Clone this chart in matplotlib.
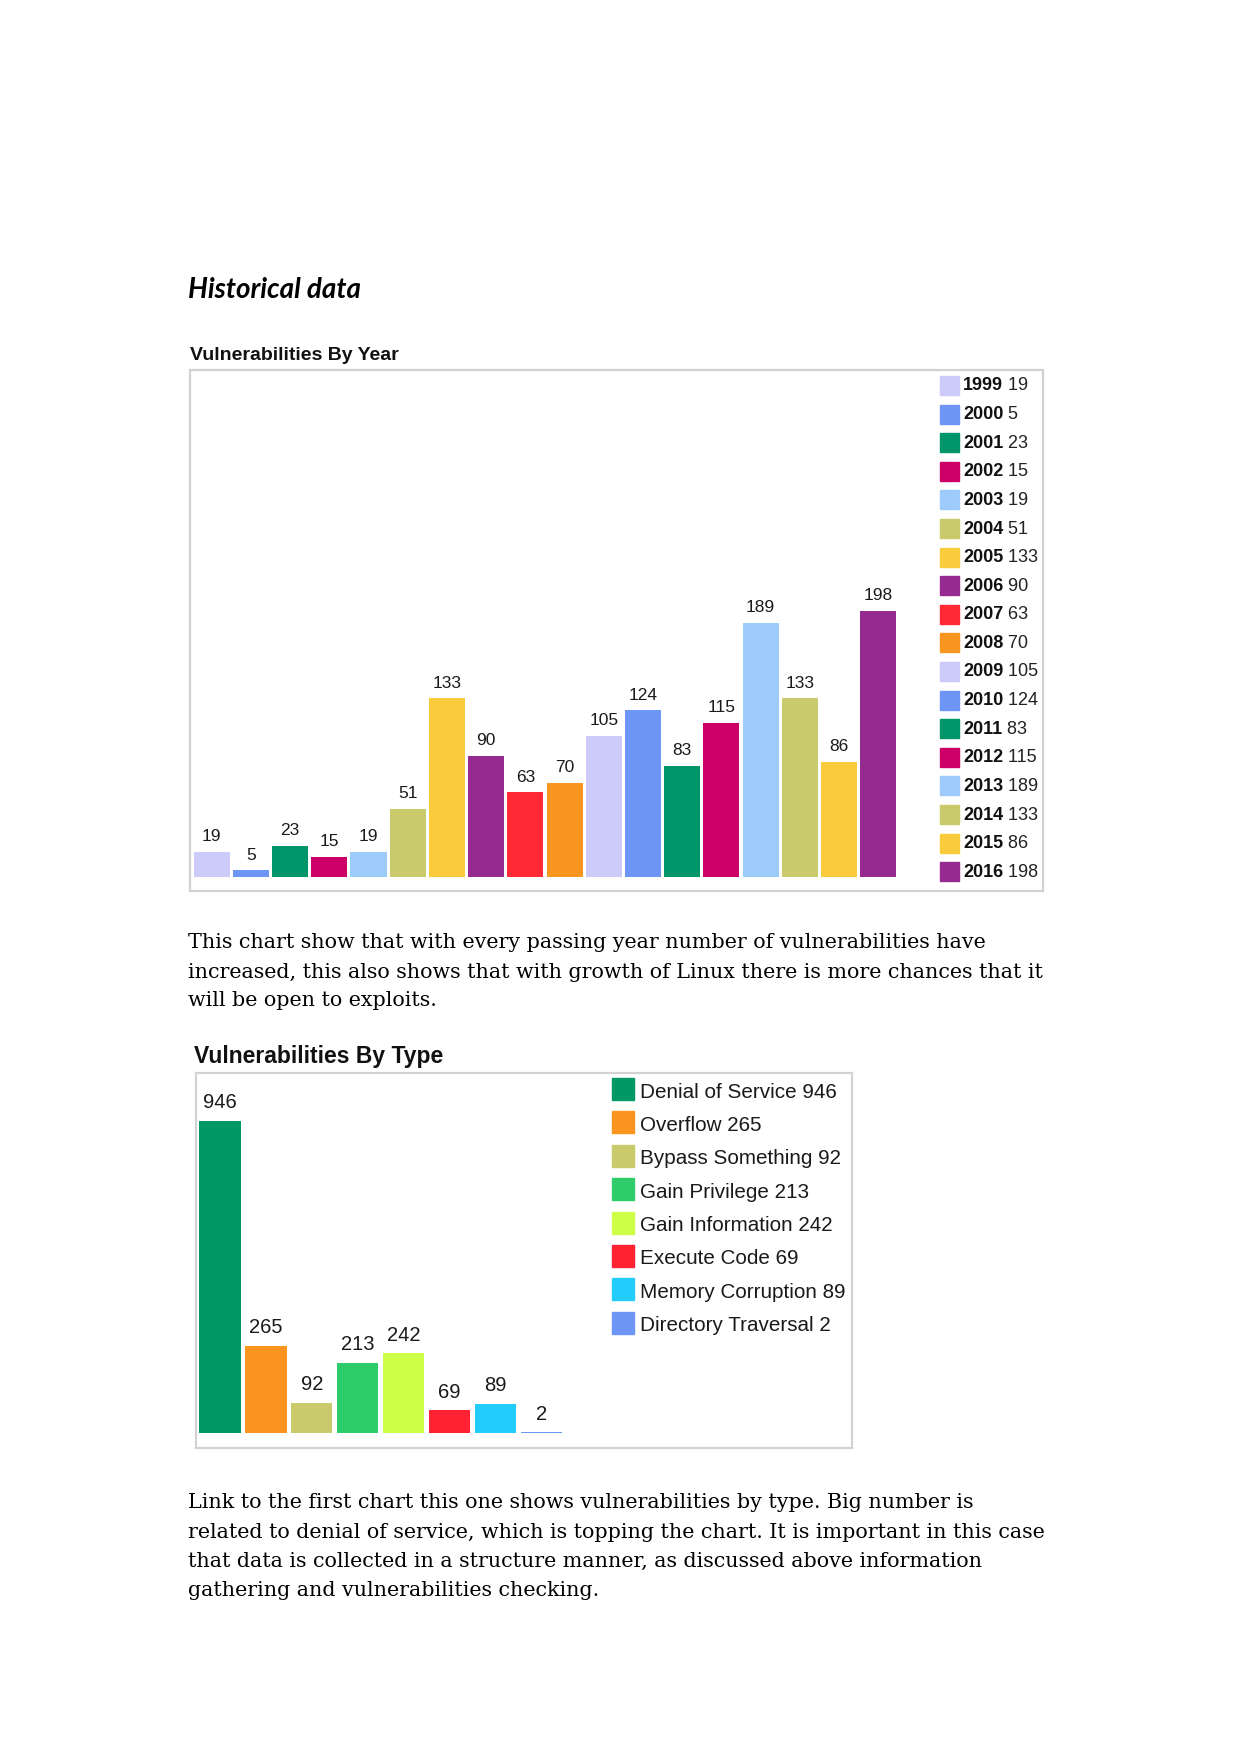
import matplotlib.pyplot as plt
from matplotlib.patches import Rectangle

W, H = 1241, 1754

# data: vulnerabilities by year
years = ['1999', '2000', '2001', '2002', '2003', '2004', '2005', '2006', '2007',
         '2008', '2009', '2010', '2011', '2012', '2013', '2014', '2015', '2016']
year_counts = [19, 5, 23, 15, 19, 51, 133, 90, 63, 70, 105, 124, 83, 115, 189, 133, 86, 198]
year_colors = ['#cccbfa', '#6d95f5', '#00966a', '#cc0066', '#9ccbfc', '#c9ca6c',
               '#fbcb3e', '#952b90', '#ff2a36', '#f99620', '#cccbfa', '#6d95f5',
               '#00966a', '#cc0066', '#9ccbfc', '#c9ca6c', '#fbcb3e', '#952b90']

# data: vulnerabilities by type
types = ['Denial of Service', 'Overflow', 'Bypass Something', 'Gain Privilege',
         'Gain Information', 'Execute Code', 'Memory Corruption', 'Directory Traversal']
type_counts = [946, 265, 92, 213, 242, 69, 89, 2]
type_colors = ['#009966', '#fb9520', '#c9ca6c', '#2ecc6b', '#ccff46', '#ff2233',
               '#22ccfb', '#6d95f5']

para1 = ["This chart show that with every passing year number of vulnerabilities have",
         "increased, this also shows that with growth of Linux there is more chances that it",
         "will be open to exploits."]
para2 = ["Link to the first chart this one shows vulnerabilities by type. Big number is",
         "related to denial of service, which is topping the chart. It is important in this case",
         "that data is collected in a structure manner, as discussed above information",
         "gathering and vulnerabilities checking."]

sans = 'Liberation Sans'
serif = 'DejaVu Serif'

fig = plt.figure(figsize=(W / 100, H / 100), dpi=100)


def fx(x):
    return x / W


def fy(y):
    return 1 - y / H


def box_axes(x0, y0, x1, y1):
    ax = fig.add_axes([fx(x0), fy(y1), (x1 - x0) / W, (y1 - y0) / H])
    ax.set_xticks([])
    ax.set_yticks([])
    for s in ax.spines.values():
        s.set_color('#d2d2d2')
        s.set_linewidth(1.6)
    return ax


# heading
fig.text(fx(188), fy(290), 'Historical data', family=['Lato', 'DejaVu Sans'],
         style='italic', weight='bold', fontsize=20, va='center', ha='left')

# ---- chart 1: by year
fig.text(fx(190), fy(356), 'Vulnerabilities By Year', family=sans, weight='bold',
         fontsize=14, va='center', color='#111111')
ax1 = box_axes(190, 370, 1043, 891)
x1 = list(range(len(years)))
ax1.bar(x1, year_counts, width=0.92, color=year_colors)
ax1.set_xlim(-0.552, 21.2)
ax1.set_ylim(-10.4, 377.5)
for xi, v in zip(x1, year_counts):
    ax1.annotate(str(v), (xi, v), xytext=(0, 11), textcoords='offset points',
                 ha='center', va='center', fontsize=12.5, family=sans, color='#1a1a1a')

for i, (yr, v, c) in enumerate(zip(years, year_counts, year_colors)):
    yc = 386 + i * 28.6
    fig.patches.append(Rectangle((fx(940), fy(yc + 9)), 19 / W, 19 / H,
                                 transform=fig.transFigure, color=c))
    t = fig.text(fx(963), fy(yc), yr, family=sans, weight='bold', fontsize=13,
                 va='center', ha='left', color='#111111')
    ax1.annotate(' ' + str(v), xy=(1, 0.5), xycoords=t, va='center', ha='left',
                 fontsize=13, family=sans, color='#222222', annotation_clip=False)

# paragraph 1
for i, line in enumerate(para1):
    fig.text(fx(188), fy(943 + i * 29), line, family=serif, fontsize=14.9,
             va='center', ha='left')

# ---- chart 2: by type
fig.text(fx(194), fy(1056), 'Vulnerabilities By Type', family=sans, weight='bold',
         fontsize=16.5, va='center', color='#111111')
ax2 = box_axes(196, 1073, 852, 1448)
x2 = list(range(len(types)))
ax2.bar(x2, type_counts, width=0.9, color=type_colors)
ax2.set_xlim(-0.523, 13.77)
ax2.set_ylim(-45.5, 1091.5)
for xi, v in zip(x2, type_counts):
    ax2.annotate(str(v), (xi, v), xytext=(0, 13), textcoords='offset points',
                 ha='center', va='center', fontsize=14.5, family=sans, color='#1a1a1a')

for i, (nm, v, c) in enumerate(zip(types, type_counts, type_colors)):
    yc = 1092 + i * 33.4
    fig.patches.append(Rectangle((fx(612), fy(yc + 8)), 22 / W, 22 / H,
                                 transform=fig.transFigure, color=c))
    fig.text(fx(640), fy(yc), f'{nm} {v}', family=sans, fontsize=14.9,
             va='center', ha='left', color='#1a1a1a')

# paragraph 2
for i, line in enumerate(para2):
    fig.text(fx(188), fy(1503 + i * 29), line, family=serif, fontsize=14.9,
             va='center', ha='left')

fig.savefig('out.png', dpi=100, facecolor='white')
